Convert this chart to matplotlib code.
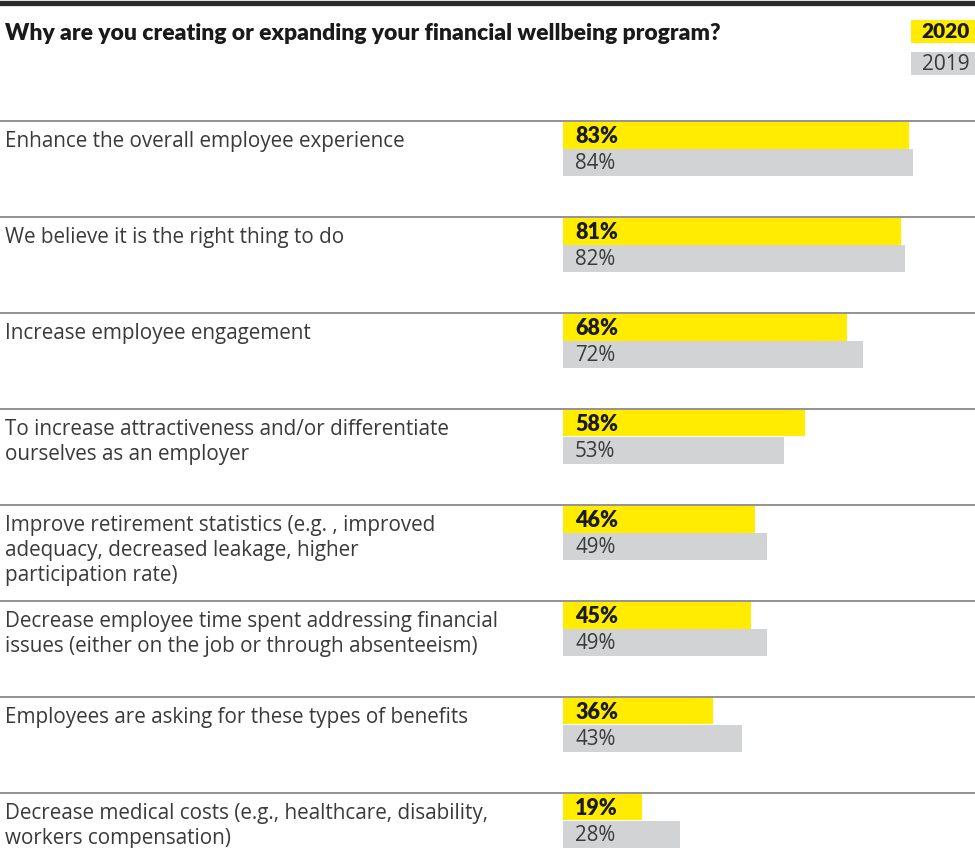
import numpy as np
import matplotlib
matplotlib.use("Agg")
import matplotlib.pyplot as plt
import matplotlib.transforms as mtransforms

TITLE = "Why are you creating or expanding your financial wellbeing program?"
LABELS = [
    "Enhance the overall employee experience",
    "We believe it is the right thing to do",
    "Increase employee engagement",
    "To increase attractiveness and/or differentiate\nourselves as an employer",
    "Improve retirement statistics (e.g. , improved\nadequacy, decreased leakage, higher\nparticipation rate)",
    "Decrease employee time spent addressing financial\nissues (either on the job or through absenteeism)",
    "Employees are asking for these types of benefits",
    "Decrease medical costs (e.g., healthcare, disability,\nworkers compensation)",
]
Y2020 = [83, 81, 68, 58, 46, 45, 36, 19]
Y2019 = [84, 82, 72, 53, 49, 49, 43, 28]
YEARS = ["2020", "2019"]

YELLOW = "#FFEC00"
GREY = "#D2D3D5"
TEXT = "#3a3a3a"

W, H = 975, 848
X0, PXP = 563, 4.17          # bar origin (px) and px per percent
R0, ROW = 121, 96            # first separator (px) and row pitch (px)

fig = plt.figure(figsize=(W / 100, H / 100), dpi=100)
ax = fig.add_axes([0, 0, 1, 1])
ax.set_xlim(-X0 / PXP, (W - X0) / PXP)
ax.set_ylim((H - R0) / ROW, -R0 / ROW)
ax.axis("off")

fam = ["Open Sans", "DejaVu Sans"]
bold = ["Lato", "DejaVu Sans"]
lab_tr = mtransforms.blended_transform_factory(ax.transAxes, ax.transData)
rows = np.arange(len(LABELS))
bh = 26.5 / ROW
ax.barh(rows + 14.25 / ROW, Y2020, height=bh, left=0, color=YELLOW, lw=0)
ax.barh(rows + 41.5 / ROW, Y2019, height=bh, left=0, color=GREY, lw=0)
for r in rows:
    ax.axhline(r, color="#8a8a8a", lw=1.3)
    ax.text(5 / W, r + 10 / ROW, LABELS[r], transform=lab_tr, ha="left", va="top",
            fontsize=14.9, color=TEXT, family=fam, linespacing=1.25)
    ax.text(12 / PXP, r + 15.5 / ROW, f"{Y2020[r]}%", ha="left", va="center",
            fontsize=15.5, fontweight="heavy", color="#1a1a1a", family=bold)
    ax.text(12 / PXP, r + 42.5 / ROW, f"{Y2019[r]}%", ha="left", va="center",
            fontsize=14.8, color=TEXT, family=fam)

# top rule and title
fig.add_artist(plt.Line2D([0, 1], [1 - 2.5 / H, 1 - 2.5 / H], color="#2b2b2b", lw=3.8))
fig.text(5 / W, 1 - 33.5 / H, TITLE, ha="left", va="center", fontsize=16.5,
         fontweight="heavy", color="#1a1a1a", family=bold)

# year legend boxes
for i, (yr, c) in enumerate(zip(YEARS, [YELLOW, GREY])):
    top = 20 + i * 32
    fig.add_artist(plt.Rectangle((911 / W, 1 - (top + 23) / H), 64 / W, 23 / H,
                                 color=c, lw=0, transform=fig.transFigure))
    fig.text(946 / W, 1 - (top + 12) / H, yr, ha="center", va="center", fontsize=15,
             fontweight="heavy" if i == 0 else "normal", color="#1a1a1a" if i == 0 else TEXT,
             family=bold if i == 0 else fam)

fig.savefig("out.png", dpi=100)
